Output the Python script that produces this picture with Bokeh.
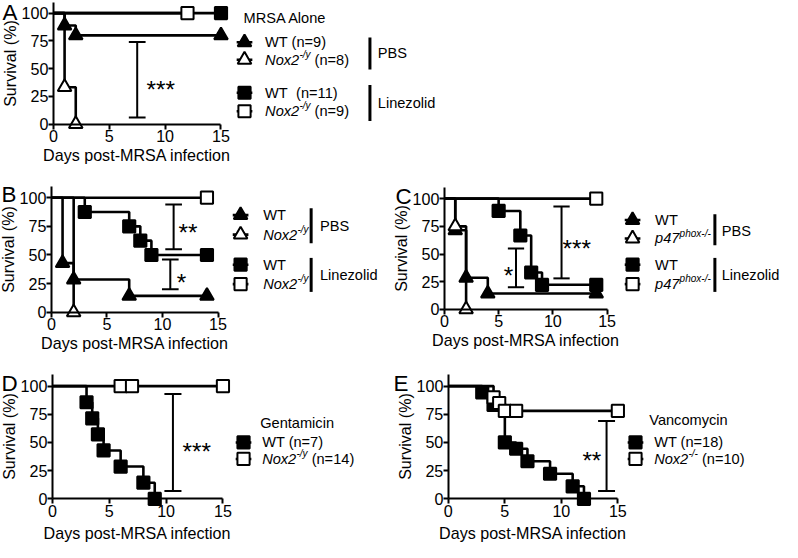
from bokeh.plotting import figure
from bokeh.models import Label, FixedTicker, Range1d
from bokeh.layouts import column, row
from bokeh.embed import file_html
from bokeh.resources import INLINE

FONT = "Liberation Sans"

# ---------------- data (days, survival %) ----------------
A_WT_PBS_T = [0, 1, 2, 15];  A_WT_PBS_S = [100, 88.9, 80.0, 80.0]
A_KO_PBS_T = [0, 1, 2];      A_KO_PBS_S = [100, 33.3, 0]
A_WT_LZD_T = [0, 15];        A_WT_LZD_S = [100, 100]
A_KO_LZD_T = [0, 12];        A_KO_LZD_S = [100, 100]

B_WT_PBS_T = [0, 1, 2, 7, 14];     B_WT_PBS_S = [100, 42.9, 28.6, 14.3, 14.3]
B_KO_PBS_T = [0, 2];               B_KO_PBS_S = [100, 0]
B_WT_LZD_T = [0, 3, 7, 8, 9, 14];  B_WT_LZD_S = [100, 87.5, 75, 62.5, 50, 50]
B_KO_LZD_T = [0, 14];              B_KO_LZD_S = [100, 100]

C_WT_PBS_T = [0, 1, 2, 4, 14];     C_WT_PBS_S = [100, 71.4, 28.6, 14.3, 14.3]
C_KO_PBS_T = [0, 1, 2];            C_KO_PBS_S = [100, 75, 0]
C_WT_LZD_T = [0, 5, 7, 8, 9, 14];  C_WT_LZD_S = [100, 88.9, 66.7, 33.3, 22.2, 22.2]
C_KO_LZD_T = [0, 14];              C_KO_LZD_S = [100, 100]

D_WT_T = [0, 3, 3.5, 4, 4.5, 6, 8, 9];   D_WT_S = [100, 85.7, 71.4, 57.1, 42.9, 28.6, 14.3, 0]
D_KO_T = [0, 6, 7, 15];                   D_KO_S = [100, 100, 100, 100]

E_WT_T = [0, 3, 4, 5, 6, 7, 9, 11, 12];  E_WT_S = [100, 94.4, 83.3, 50, 44.4, 33.3, 22.2, 11.1, 0]
E_KO_T = [0, 4, 4.5, 5, 6, 15];          E_KO_S = [100, 90, 85, 78, 78, 78]

X_TICKS = [0, 5, 10, 15]
Y_TICKS = [0, 25, 50, 75, 100]

# significance brackets: (day, low %, high %, label)
A_SIG = [(7.5, 6, 74, "***")]
B_SIG = [(11.0, 55, 94, "**"), (10.7, 20, 46, "*")]
C_SIG = [(10.8, 28, 93, "***"), (6.6, 20, 55, "*")]
D_SIG = [(10.6, 7, 93, "***")]
E_SIG = [(14.0, 7, 69, "**")]

# ---------------- layout helpers ----------------
SX = 782 / 798
SY = 542 / 558
FS = (SX + SY) / 2
LW = 2.6

def cx(x):
    return x * SX

def cy(y):
    return y * SY

CW = {' ': 278, '(': 333, ')': 333, '=': 584, '-': 333, '/': 278, '%': 889, '*': 389,
      'A': 667, 'B': 667, 'C': 722, 'D': 722, 'E': 667, 'G': 778, 'L': 556, 'M': 833,
      'N': 722, 'O': 778, 'P': 667, 'R': 722, 'S': 667, 'T': 611, 'V': 667, 'W': 944,
      'a': 556, 'b': 556, 'c': 500, 'd': 556, 'e': 556, 'f': 278, 'g': 556, 'h': 556,
      'i': 222, 'k': 500, 'l': 222, 'm': 833, 'n': 556, 'o': 556, 'p': 556, 'r': 333,
      's': 500, 't': 278, 'u': 556, 'v': 500, 'x': 500, 'y': 500, 'z': 500}

def tw(s, size):
    return sum(CW.get(c, 556) for c in s) * size / 1000


class Panel:
    def __init__(self, fx, fy, W, H, x0, x15, y0, y100, xlab_standoff=0):
        self.fx, self.fy = fx, fy
        self.X0 = cx(x0) - fx
        self.XS = (cx(x15) - cx(x0)) / 15
        self.Y0 = cy(y0) - fy
        self.YS = (cy(y0) - cy(y100)) / 100
        p = figure(width=W, height=H,
                   x_range=Range1d(-self.X0 / self.XS, (W - self.X0) / self.XS),
                   y_range=Range1d((self.Y0 - H) / self.YS, self.Y0 / self.YS),
                   min_border_left=0, min_border_right=0, min_border_top=0, min_border_bottom=0,
                   output_backend="svg", toolbar_location=None)
        p.grid.visible = False
        p.outline_line_color = None
        p.background_fill_color = "white"
        for ax in (p.xaxis, p.yaxis):
            ax.fixed_location = 0
            ax.axis_line_width = 2
            ax.axis_line_color = "black"
            ax.major_tick_line_width = 2
            ax.major_tick_line_color = "black"
            ax.major_tick_in = 0
            ax.major_tick_out = 5
            ax.minor_tick_line_color = None
            ax.major_label_text_font = FONT
            ax.major_label_text_font_size = f"{16.5 * FS:.1f}px"
            ax.major_label_text_color = "black"
            ax.major_label_standoff = 1
            ax.axis_label_text_font = FONT
            ax.axis_label_text_font_size = f"{16.5 * FS:.1f}px"
            ax.axis_label_text_font_style = "normal"
            ax.axis_label_text_color = "black"
        p.xaxis.bounds = (0, 15)
        p.yaxis.bounds = (0, 110)
        p.xaxis.ticker = FixedTicker(ticks=X_TICKS)
        p.yaxis.ticker = FixedTicker(ticks=Y_TICKS)
        p.xaxis.axis_label = "Days post-MRSA infection"
        p.yaxis.axis_label = "Survival (%)"
        p.xaxis.axis_label_standoff = xlab_standoff
        p.yaxis.axis_label_standoff = 0
        p.yaxis.major_label_standoff = 0
        self.p = p

    def dx(self, xr):
        return (cx(xr) - self.fx - self.X0) / self.XS

    def dy(self, yr):
        return (self.Y0 - (cy(yr) - self.fy)) / self.YS

    def text(self, xr, yr, txt, size, style="normal", align="left"):
        self.p.add_layout(Label(x=self.dx(xr), y=self.dy(yr), text=txt, text_font=FONT,
                                text_font_size=f"{size * FS:.1f}px", text_font_style=style,
                                text_baseline="middle", text_align=align, text_color="black"))

    def rich(self, xr, yr, segs, size=15):
        x = xr
        for txt, kind in segs:
            s = size * 0.68 if kind == "sup" else size
            lead = len(txt) - len(txt.lstrip(" "))
            x += tw(" " * lead, s)
            txt = txt.lstrip(" ")
            if kind == "sup":
                self.text(x, yr - size * 0.36, txt, s, "italic")
            else:
                self.text(x, yr, txt, s, "italic" if kind == "i" else "normal")
            x += tw(txt, s)

    def curves(self, series):
        p = self.p
        for T, S, mk, filled in series:
            p.step(x=T, y=S, mode="after", line_color="black", line_width=LW)
        for T, S, mk, filled in sorted(series, key=lambda s: not s[3]):
            size = 14 if mk == "triangle" else 12.5
            p.scatter(x=T[1:], y=S[1:], marker=mk, size=size * FS,
                      fill_color="black" if filled else "white",
                      line_color="black", line_width=2)

    def key(self, xr, yr, mk, filled):
        p = self.p
        y = self.dy(yr)
        p.segment(x0=[self.dx(xr - 8)], y0=[y], x1=[self.dx(xr + 8)], y1=[y],
                  line_color="black", line_width=LW)
        size = 14 if mk == "triangle" else 12.5
        p.scatter(x=[self.dx(xr)], y=[y], marker=mk, size=size * FS,
                  fill_color="black" if filled else "white", line_color="black", line_width=2)

    def bar(self, xr, y1r, y2r):
        self.p.segment(x0=[self.dx(xr)], y0=[self.dy(y1r)], x1=[self.dx(xr)], y1=[self.dy(y2r)],
                       line_color="black", line_width=3)

    def sig(self, sigs, text_pos):
        p = self.p
        cap = 0.75
        for (d, lo, hi, lab), (tx, ty) in zip(sigs, text_pos):
            p.segment(x0=[d, d - cap, d - cap], y0=[lo, lo, hi], x1=[d, d + cap, d + cap], y1=[hi, lo, hi],
                      line_color="black", line_width=2)
            p.add_layout(Label(x=tx, y=ty, text=lab, text_font=FONT,
                               text_font_size=f"{25 * FS:.1f}px", text_baseline="middle",
                               text_align="center", text_color="black"))


W1 = round(cx(396))
H1 = round(cy(172))
H2 = round(cy(368)) - H1
H3 = 542 - H1 - H2

# ---------------- Panel A ----------------
A = Panel(0, 0, 782, H1, 54, 225, 127.3, 13)
A.curves([(A_WT_PBS_T, A_WT_PBS_S, "triangle", True), (A_KO_PBS_T, A_KO_PBS_S, "triangle", False),
          (A_WT_LZD_T, A_WT_LZD_S, "square", True), (A_KO_LZD_T, A_KO_LZD_S, "square", False)])
A.sig(A_SIG, [(9.6, 31)])
A.text(2, 12, "A", 23)
A.text(248, 18, "MRSA Alone", 15)
A.key(249, 43, "triangle", True)
A.key(249, 61, "triangle", False)
A.key(249, 95, "square", True)
A.key(249, 114, "square", False)
A.rich(270, 43, [("WT (n=9)", "n")])
A.rich(270, 61, [("Nox2", "i"), ("-/y", "sup"), (" (n=8)", "n")])
A.rich(270, 95, [("WT", "n"), ("  (n=11)", "n")])
A.rich(270, 114, [("Nox2", "i"), ("-/y", "sup"), (" (n=9)", "n")])
A.bar(377, 38, 71)
A.bar(377, 87, 124)
A.text(385, 54, "PBS", 15)
A.text(385, 106, "Linezolid", 15)

# ---------------- Panel B ----------------
B = Panel(0, H1, W1, H2, 52, 222, 321, 203)
B.curves([(B_WT_PBS_T, B_WT_PBS_S, "triangle", True), (B_KO_PBS_T, B_KO_PBS_S, "triangle", False),
          (B_WT_LZD_T, B_WT_LZD_S, "square", True), (B_KO_LZD_T, B_KO_LZD_S, "square", False)])
B.sig(B_SIG, [(12.3, 70), (11.7, 26)])
B.text(1, 200, "B", 23)
B.key(245, 221, "triangle", True)
B.key(245, 241, "triangle", False)
B.key(245, 272, "square", True)
B.key(245, 292, "square", False)
B.rich(268, 221, [("WT", "n")])
B.rich(268, 241, [("Nox2", "i"), ("-/y", "sup")])
B.rich(268, 272, [("WT", "n")])
B.rich(268, 292, [("Nox2", "i"), ("-/y", "sup")])
B.bar(317, 214, 250)
B.bar(317, 265, 300)
B.text(326, 232, "PBS", 15)
B.text(326, 283, "Linezolid", 15)

# ---------------- Panel C ----------------
C = Panel(W1, H1, 782 - W1, H2, 453, 619, 318, 204)
C.curves([(C_WT_PBS_T, C_WT_PBS_S, "triangle", True), (C_KO_PBS_T, C_KO_PBS_S, "triangle", False),
          (C_WT_LZD_T, C_WT_LZD_S, "square", True), (C_KO_LZD_T, C_KO_LZD_S, "square", False)])
C.sig(C_SIG, [(12.2, 55), (5.9, 31)])
C.text(403, 202, "C", 23)
C.key(645, 226, "triangle", True)
C.key(645, 245, "triangle", False)
C.key(645, 272, "square", True)
C.key(645, 292, "square", False)
C.rich(668, 226, [("WT", "n")])
C.rich(668, 245, [("p47", "i"), ("phox-/-", "sup")])
C.rich(668, 272, [("WT", "n")])
C.rich(668, 292, [("p47", "i"), ("phox-/-", "sup")])
C.bar(729, 220, 252)
C.bar(729, 265, 300)
C.text(736, 237, "PBS", 15)
C.text(736, 283, "Linezolid", 15)

# ---------------- Panel D ----------------
D = Panel(0, H1 + H2, W1, H3, 53, 227, 513, 397, xlab_standoff=4)
D.curves([(D_WT_T, D_WT_S, "square", True), (D_KO_T, D_KO_S, "square", False)])
D.sig(D_SIG, [(12.7, 42)])
D.text(1, 394, "D", 23)
D.text(265, 435, "Gentamicin", 15)
D.key(248, 455, "square", True)
D.key(248, 472, "square", False)
D.rich(267, 455, [("WT (n=7)", "n")])
D.rich(267, 472, [("Nox2", "i"), ("-/y", "sup"), (" (n=14)", "n")])

# ---------------- Panel E ----------------
E = Panel(W1, H1 + H2, 782 - W1, H3, 457, 630, 513, 397, xlab_standoff=4)
E.curves([(E_WT_T, E_WT_S, "square", True), (E_KO_T, E_KO_S, "square", False)])
E.sig(E_SIG, [(12.7, 34)])
E.text(401, 394, "E", 23)
E.text(662, 432, "Vancomycin", 15)
E.key(648, 455, "square", True)
E.key(648, 472, "square", False)
E.rich(667, 455, [("WT (n=18)", "n")])
E.rich(667, 472, [("Nox2", "i"), ("-/-", "sup"), (" (n=10)", "n")])

layout = column(A.p, row(B.p, C.p), row(D.p, E.p))
open("out.html", "w").write(file_html(layout, INLINE))
